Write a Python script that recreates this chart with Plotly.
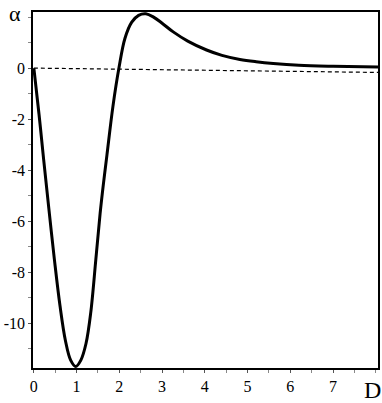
import plotly.graph_objects as go

# solid curve
d = [0, 0.12, 0.23, 0.35, 0.48, 0.61, 0.74, 0.86, 0.98, 1.1, 1.22, 1.33, 1.45,
     1.55, 1.63, 1.71, 1.85, 1.99, 2.13, 2.29, 2.45, 2.62, 2.8, 3.0, 3.26, 3.6,
     4.04, 4.4, 4.82, 5.2, 5.6, 6.2, 7.0, 8.05]
alpha = [0, -1.8, -3.6, -5.5, -7.5, -9.3, -10.7, -11.45, -11.7, -11.45, -10.8, -9.6,
         -7.5, -5.7, -4.5, -3.4, -1.5, 0, 1.16, 1.8, 2.07, 2.13, 2.0, 1.76, 1.42,
         1.06, 0.71, 0.5, 0.34, 0.25, 0.18, 0.11, 0.07, 0.04]

# dashed line
d_dash = [0, 8.05]
alpha_dash = [0, -0.17]

x_ticks = [0, 1, 2, 3, 4, 5, 6, 7]
y_ticks = [0, -2, -4, -6, -8, -10]
y_labels = ["0", "-2", "-4", "-6", "-8", "-10"]

font = "Liberation Serif, Times New Roman, serif"

fig = go.Figure()
fig.add_trace(go.Scatter(x=d_dash, y=alpha_dash, mode="lines",
                         line=dict(color="black", width=1.2, dash="4px,3px")))
fig.add_trace(go.Scatter(x=d, y=alpha, mode="lines",
                         line=dict(color="black", width=3, shape="spline", smoothing=1.0)))

fig.update_xaxes(range=[-0.02, 8.05], tickvals=x_ticks, ticktext=[str(v) for v in x_ticks],
                 ticks="outside", ticklen=3, tickcolor="#555",
                 minor=dict(dtick=0.5, ticks="outside", ticklen=3, tickcolor="#888"),
                 showgrid=False, zeroline=False, showline=True, linecolor="black",
                 linewidth=1.5, mirror=True, automargin=False,
                 tickfont=dict(family=font, size=16, color="black"))
fig.update_yaxes(range=[-11.76, 2.2], tickvals=y_ticks, ticktext=y_labels,
                 ticks="outside", ticklen=3, tickcolor="#555",
                 minor=dict(dtick=1, ticks="outside", ticklen=3, tickcolor="#888"),
                 showgrid=False, zeroline=False, showline=True, linecolor="black",
                 linewidth=1.5, mirror=True, automargin=False,
                 tickfont=dict(family=font, size=16, color="black"))

fig.add_annotation(text="α", xref="paper", yref="paper", x=-0.052, y=0.995,
                   xanchor="center", yanchor="middle", showarrow=False,
                   font=dict(family=font, size=22, color="black"))
fig.add_annotation(text="D", xref="paper", yref="paper", x=0.983, y=-0.02,
                   xanchor="center", yanchor="top", showarrow=False,
                   font=dict(family=font, size=24, color="black"))

fig.update_layout(width=382, height=403, showlegend=False,
                  margin=dict(l=33, r=4, t=12, b=35),
                  paper_bgcolor="white", plot_bgcolor="white",
                  font=dict(family=font, color="black"))

# the page has a default body margin; drop it so the figure sits at the corner
fig.write_html("out.html", config={"displayModeBar": False},
               post_script="document.body.style.margin='0';")
